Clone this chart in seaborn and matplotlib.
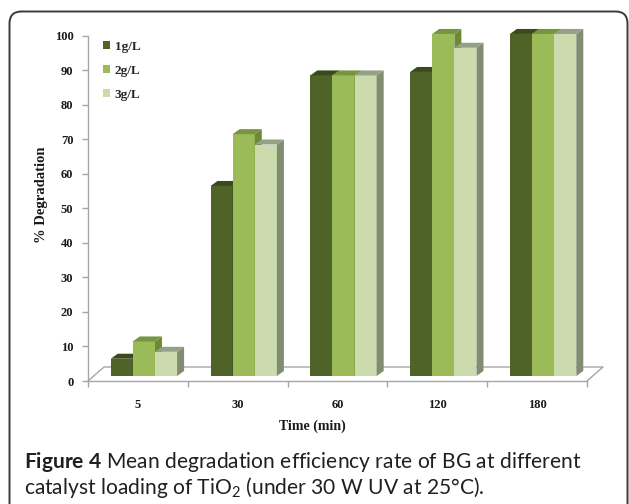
import numpy as np
import pandas as pd
import seaborn as sns
import matplotlib
matplotlib.use("Agg")
import matplotlib.pyplot as plt
from matplotlib.patches import Polygon, FancyBboxPatch, Patch
from matplotlib.transforms import ScaledTranslation, IdentityTransform

# ---------------- data ----------------
times = ["5", "30", "60", "120", "180"]
loadings = ["1g/L", "2g/L", "3g/L"]
deg_1gL = [5, 55, 87, 88, 99]
deg_2gL = [10, 70, 87, 99, 99]
deg_3gL = [7, 67, 87, 95, 99]
y_ticks = list(range(0, 101, 10))

front_cols = ["#4F6228", "#9BBB59", "#CBDBAE"]
top_cols = ["#3B4A1C", "#779540", "#95A186"]
side_cols = ["#36441A", "#6E8935", "#818C70"]

df = pd.DataFrame({
    "Time": times * 3,
    "Loading": [l for l in loadings for _ in times],
    "Deg": deg_1gL + deg_2gL + deg_3gL,
})

sns.set_theme(style="white")
plt.rcParams["font.family"] = ["Liberation Serif", "DejaVu Serif"]
plt.rcParams["mathtext.fontset"] = "custom"
plt.rcParams["mathtext.rm"] = "Lato"
plt.rcParams["mathtext.bf"] = "Lato:bold"
plt.rcParams["mathtext.it"] = "Lato:italic"

W, H = 629, 504
fig = plt.figure(figsize=(W / 100, H / 100), dpi=100)
fig.patch.set_facecolor("white")
ax = fig.add_axes([88 / W, 1 - 381 / H, 499 / W, (381 - 35.5) / H])

sns.barplot(data=df, x="Time", y="Deg", hue="Loading", order=times,
            hue_order=loadings, palette=front_cols, width=0.665,
            saturation=1, errorbar=None, legend=False, ax=ax, linewidth=0)

ax.set_xlim(-0.5, 4.5)
ax.set_ylim(0, 100)

ppx = ax.bbox.width / 5.0
ppy = ax.bbox.height / 100.0
shift = ScaledTranslation(6 / fig.dpi, 5 / fig.dpi, fig.dpi_scale_trans)
tr = ax.transData + shift
dx, dy = 7 / ppx, 5 / ppy

for i, cont in enumerate(ax.containers):
    for bar in cont:
        bar.set_transform(tr)
        bar.set_zorder(3 + i)
        bar.set_edgecolor("none")
        bar.set_clip_on(False)
        x0, w, h = bar.get_x(), bar.get_width(), bar.get_height()
        topf = Polygon([(x0, h), (x0 + w, h), (x0 + w + dx, h + dy), (x0 + dx, h + dy)],
                       closed=True, fc=top_cols[i], ec="none", transform=tr,
                       zorder=3 + i, clip_on=False)
        sidef = Polygon([(x0 + w, 0), (x0 + w + dx, dy), (x0 + w + dx, h + dy), (x0 + w, h)],
                        closed=True, fc=side_cols[i], ec="none", transform=tr,
                        zorder=3 + i, clip_on=False)
        ax.add_patch(sidef)
        ax.add_patch(topf)

# 3D floor outline
fx, fy = 16 / ppx, 14 / ppy
ax.plot([-0.5, -0.5 + fx, 4.5 + fx, 4.5], [0, fy, fy, 0], color="#A6A6A6",
        lw=1, clip_on=False, zorder=1)

# axes styling
for s in ["top", "right"]:
    ax.spines[s].set_visible(False)
for s in ["left", "bottom"]:
    ax.spines[s].set_color("#A6A6A6")
    ax.spines[s].set_linewidth(1)

ax.set_yticks(y_ticks)
ax.tick_params(axis="y", which="both", left=True, direction="out", length=4,
               width=1, color="#A6A6A6", pad=6.5, labelsize=9, labelcolor="#1a1a1a")
ax.set_xticks(range(len(times)))
ax.set_xticklabels(times)
ax.set_xticks(np.arange(-0.5, len(times), 1), minor=True)
ax.tick_params(axis="x", which="major", bottom=True, length=0, pad=13,
               labelsize=9, labelcolor="#1a1a1a")
ax.tick_params(axis="x", which="minor", bottom=True, direction="out", length=4,
               width=1, color="#A6A6A6")
for lab in ax.get_xticklabels() + ax.get_yticklabels():
    lab.set_fontweight("bold")

ax.set_xlabel("Time (min)", fontsize=10, fontweight="bold", color="#1a1a1a", va="center")
ax.xaxis.set_label_coords((312 - 88) / 499, (381 - 426.7) / 345.5)
ax.set_ylabel("% Degradation", fontsize=10.5, fontweight="bold", color="#1a1a1a",
              va="center", ha="center")
ax.yaxis.set_label_coords((41.7 - 88) / 499, (381 - 195) / 345.5)

handles = [Patch(fc=c, ec="none") for c in front_cols]
ax.legend(handles, loadings, loc="upper left", bbox_to_anchor=(103 / W, 1 - 41 / H),
          bbox_transform=fig.transFigure, frameon=False,
          prop={"weight": "bold", "size": 9.5, "family": ["Liberation Serif"]},
          handlelength=0.55, handleheight=0.55, handletextpad=0.35,
          labelspacing=0.9, borderpad=0, borderaxespad=0)

# outer rounded frame
box = FancyBboxPatch((9.5, -40), 618, 492.5 + 40,
                     boxstyle="round,pad=0,rounding_size=12",
                     transform=IdentityTransform(), fc="none", ec="#3a3a3a", lw=1.4)
fig.add_artist(box)

# caption
cap_col = "#231F20"
x_cap = 24
t1 = fig.text(x_cap / W, 1 - 461.7 / H,
              r"$\mathbf{Figure\ 4}$ Mean degradation efficiency rate of BG at different",
              family="Lato", fontsize=14, color=cap_col, ha="left", va="center")
t2 = fig.text(x_cap / W, 1 - 487.5 / H,
              r"catalyst loading of TiO$_\mathregular{2}$ (under 30 W UV at 25°C).",
              family="Lato", fontsize=14, color=cap_col, ha="left", va="center")
r = fig.canvas.get_renderer()
wpx = t1.get_window_extent(renderer=r).width
fs = 14 * (584 - x_cap) / wpx
t1.set_fontsize(fs)
t2.set_fontsize(fs)

fig.savefig("out.png", dpi=100, facecolor="white")
